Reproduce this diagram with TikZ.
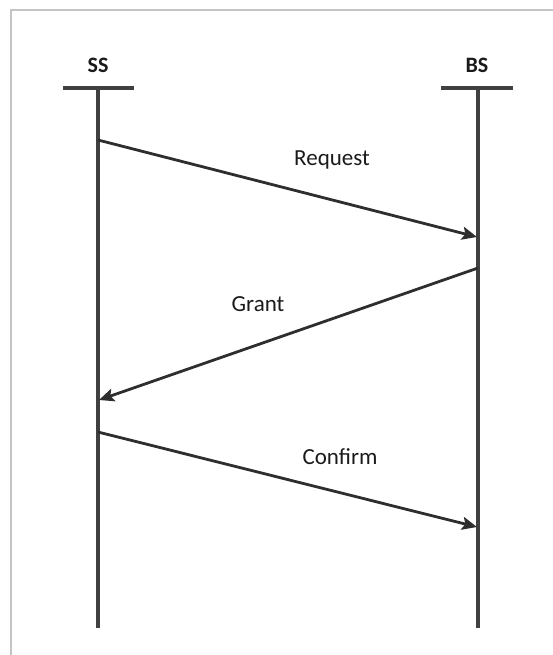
\documentclass[tikz,border=0pt]{standalone}
\usepackage{fontspec}
\setmainfont{Carlito}
\usetikzlibrary{arrows.meta}
\definecolor{lifeline}{HTML}{404040}
\definecolor{msgline}{HTML}{2E2E2E}
\definecolor{framegray}{HTML}{C4C4C4}
\definecolor{labeltext}{HTML}{1A1A1A}
\tikzset{
  actorlabel/.style={font=\fontsize{22}{25}\selectfont\bfseries, text=labeltext, inner sep=0pt},
  msglabel/.style={font=\fontsize{23}{26}\selectfont, text=labeltext, inner sep=0pt},
  headbar/.style={draw=lifeline, line width=4pt},
  lifebar/.style={draw=lifeline, line width=4pt},
  message/.style={draw=msgline, line width=2.8pt,
    -{Stealth[length=15pt, width=13pt, inset=3pt]}},
}
\begin{document}
\begin{tikzpicture}[x=1pt,y=-1pt]
  \useasboundingbox (0,0) rectangle (552,655);
  % outer frame, only the top and left edges lie inside the page
  \draw[framegray, line width=1.5pt] (11,660) -- (11,10) -- (560,10);

  % actors
  \node[actorlabel] (ssl) at (98,65) {SS};
  \node[actorlabel] (bsl) at (477,65) {BS};

  % head bars
  \coordinate (ssbarL) at (63,88);
  \coordinate (ssbarR) at (134,88);
  \coordinate (bsbarL) at (441,88);
  \coordinate (bsbarR) at (513,88);
  \draw[headbar] (ssbarL) -- (ssbarR);
  \draw[headbar] (bsbarL) -- (bsbarR);

  % lifelines
  \coordinate (sstop) at (98,88);
  \coordinate (ssbot) at (98,628);
  \coordinate (bstop) at (478,88);
  \coordinate (bsbot) at (478,628);
  \draw[lifebar] (sstop) -- (ssbot);
  \draw[lifebar] (bstop) -- (bsbot);

  % message end points on the lifelines
  \coordinate (reqA) at (98,140);
  \coordinate (reqB) at (477,237);
  \coordinate (grA) at (478,268);
  \coordinate (grB) at (99,400);
  \coordinate (cfA) at (98,432);
  \coordinate (cfB) at (477,527);

  % messages
  \draw[message] (reqA) -- (reqB);
  \draw[message] (grA) -- (grB);
  \draw[message] (cfA) -- (cfB);

  % message labels
  \node[msglabel] (reqt) at (332,160) {Request};
  \node[msglabel] (grt) at (258,304) {Grant};
  \node[msglabel] (cft) at (340,457) {Confirm};
\end{tikzpicture}
\end{document}
